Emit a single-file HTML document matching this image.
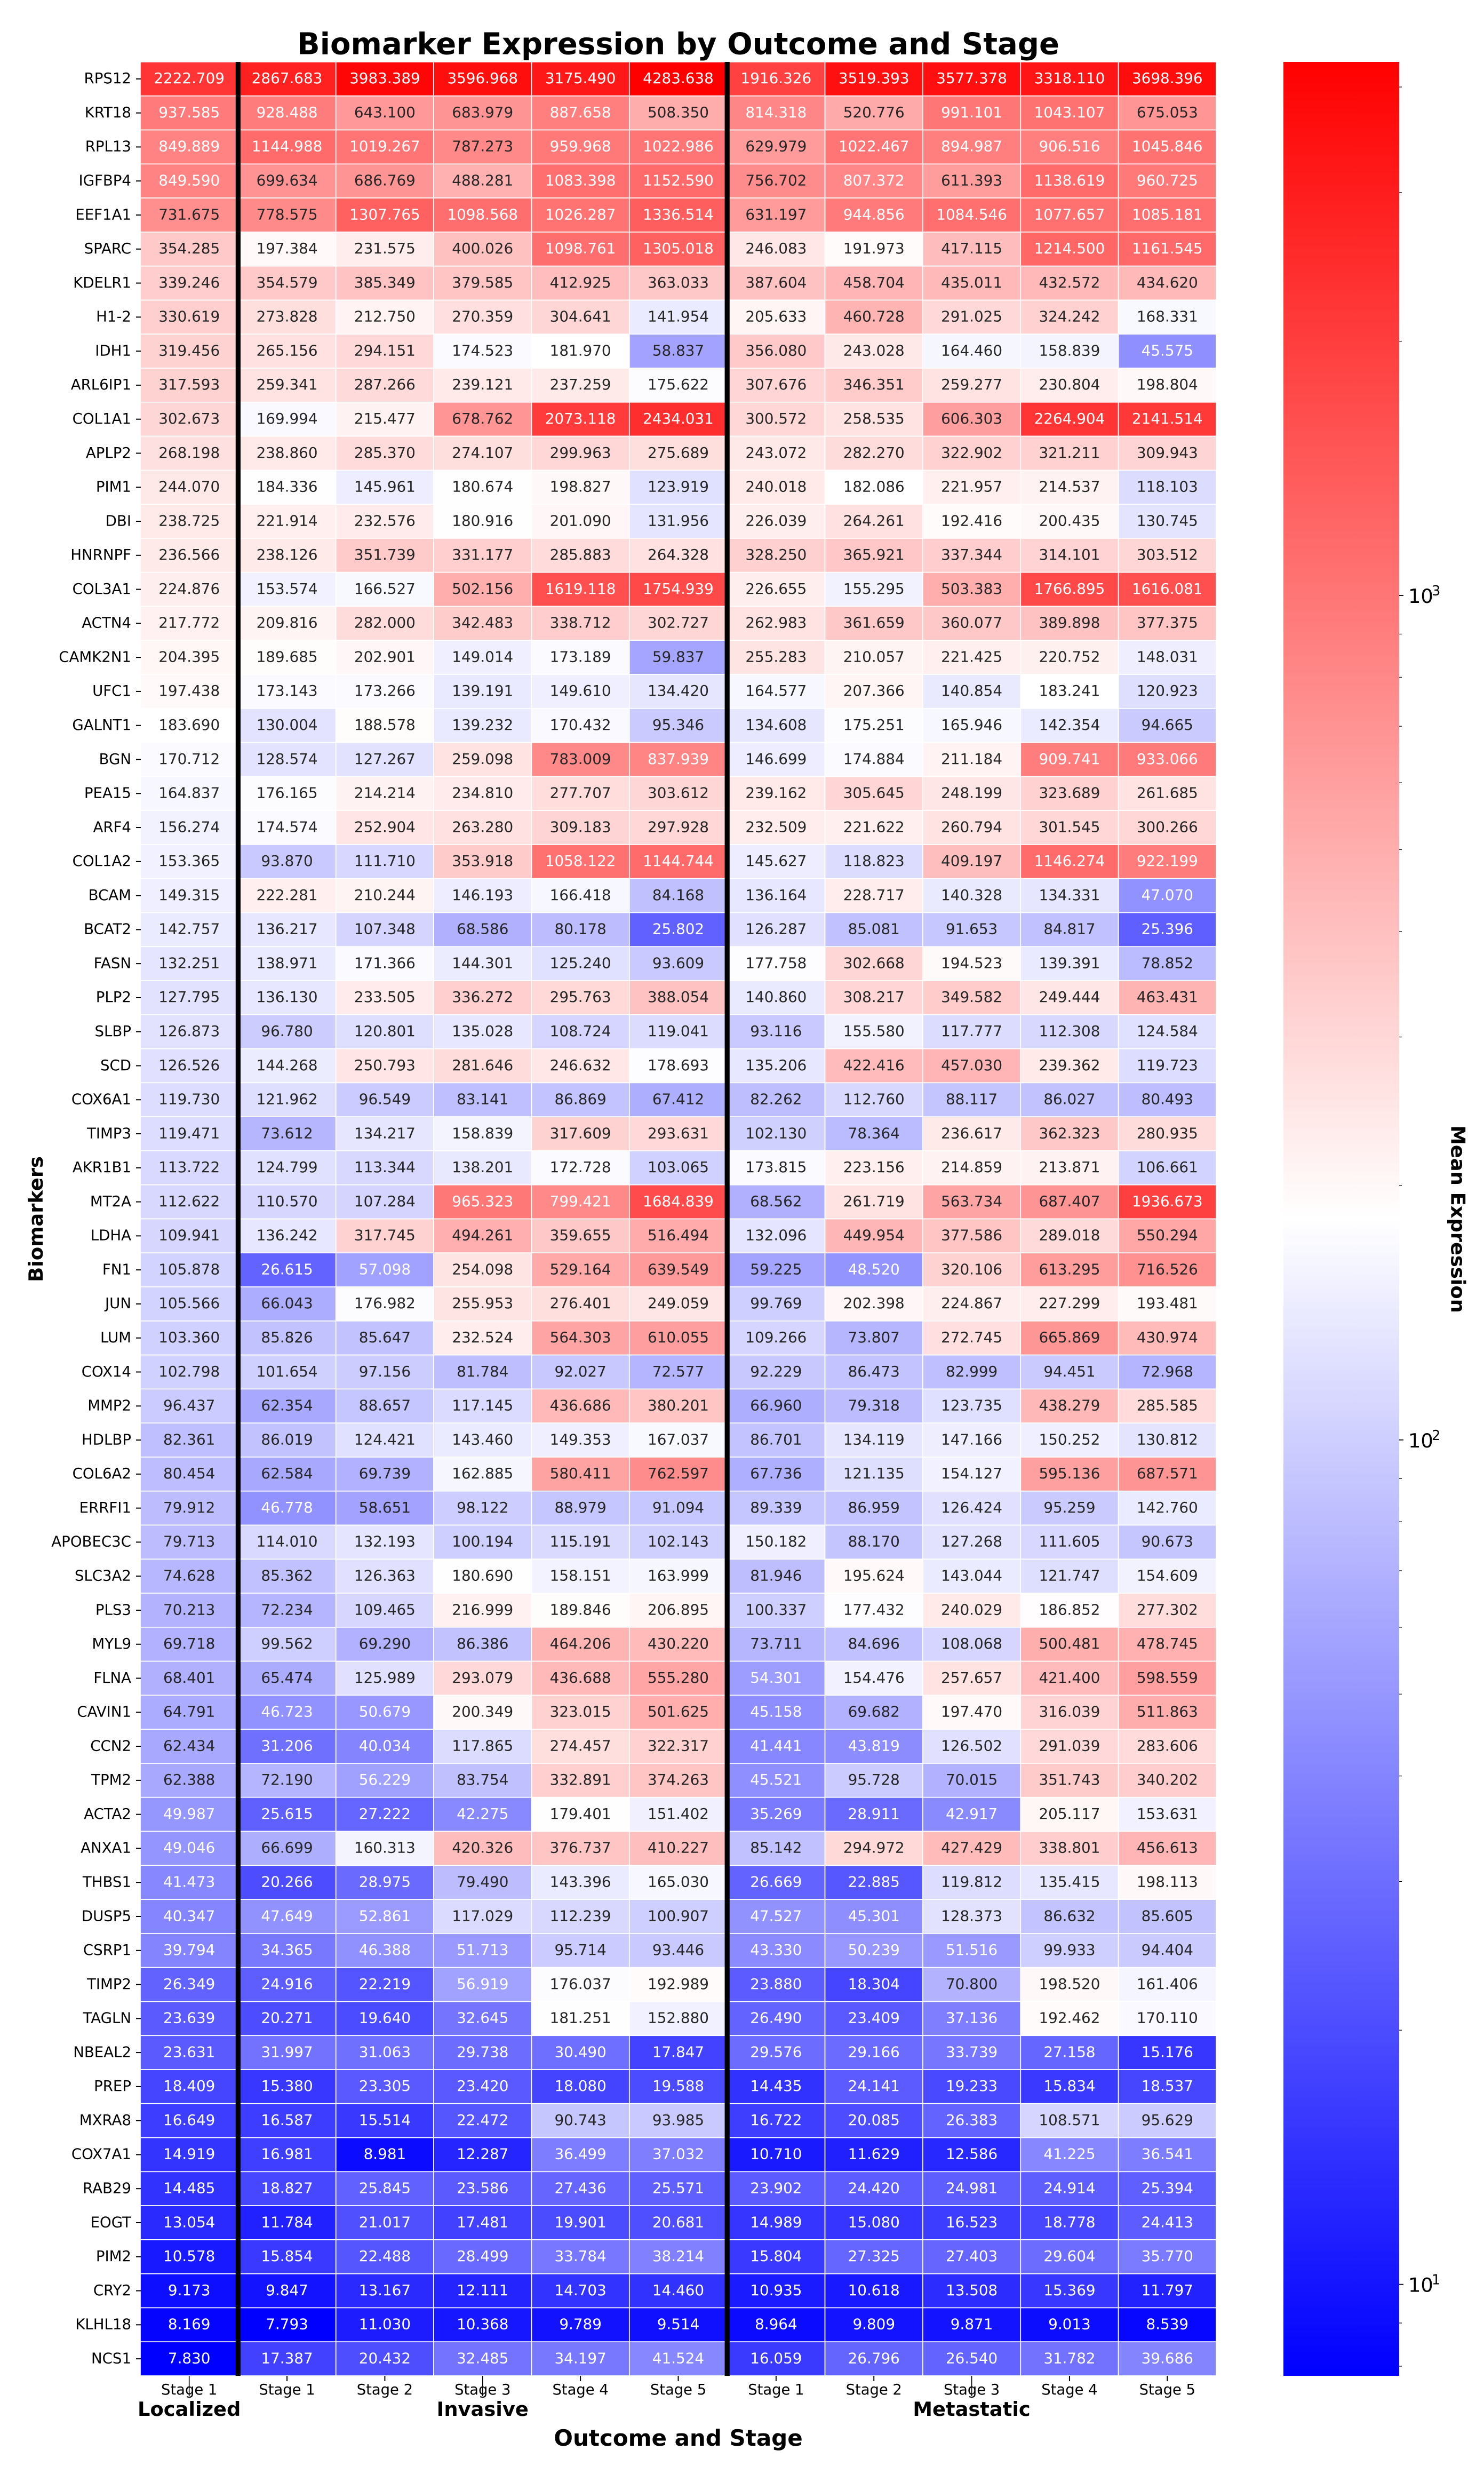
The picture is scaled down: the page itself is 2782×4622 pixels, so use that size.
<!DOCTYPE html>
<html lang="en">
<head>
<meta charset="utf-8">
<title>Biomarker Expression by Outcome and Stage</title>
<style>
html,body{margin:0;padding:0;background:#fff;}
#chart{display:block;width:2782px;height:4622px;font-family:"DejaVu Sans",sans-serif;}
text{font-family:"DejaVu Sans",sans-serif;}
.bold{font-weight:700;}
</style>
</head>
<body>
<svg id="chart" xmlns="http://www.w3.org/2000/svg" width="2782" height="4622" viewBox="0 0 2782 4622">
<rect x="0" y="0" width="2782" height="4622" fill="#ffffff"></rect>
<defs><linearGradient id="bwrGradient" x1="0" y1="1" x2="0" y2="0"><stop offset="0" stop-color="#0000ff"></stop><stop offset="0.5" stop-color="#ffffff"></stop><stop offset="1" stop-color="#ff0000"></stop></linearGradient></defs>
<text class="bold" x="557" y="101.7" font-size="56" textLength="1429" lengthAdjust="spacing" fill="#000">Biomarker Expression by Outcome and Stage</text>
<text class="bold" x="1271.5" y="4584" font-size="42" text-anchor="middle" fill="#000">Outcome and Stage</text>
<text class="bold" transform="translate(80,2285) rotate(-90)" font-size="36.8" text-anchor="middle" fill="#000">Biomarkers</text>
<text class="bold" transform="translate(2720.7,2285) rotate(90)" font-size="36.8" text-anchor="middle" fill="#000">Mean Expression</text>
<g id="cells"></g>
<g id="dividers"></g>
<g id="yAxis"></g>
<g id="xAxis"></g>
<g id="colorbar"></g>
</svg>
<script>
const biomarkers = ["RPS12","KRT18","RPL13","IGFBP4","EEF1A1","SPARC","KDELR1","H1-2","IDH1","ARL6IP1","COL1A1","APLP2","PIM1","DBI","HNRNPF","COL3A1","ACTN4","CAMK2N1","UFC1","GALNT1","BGN","PEA15","ARF4","COL1A2","BCAM","BCAT2","FASN","PLP2","SLBP","SCD","COX6A1","TIMP3","AKR1B1","MT2A","LDHA","FN1","JUN","LUM","COX14","MMP2","HDLBP","COL6A2","ERRFI1","APOBEC3C","SLC3A2","PLS3","MYL9","FLNA","CAVIN1","CCN2","TPM2","ACTA2","ANXA1","THBS1","DUSP5","CSRP1","TIMP2","TAGLN","NBEAL2","PREP","MXRA8","COX7A1","RAB29","EOGT","PIM2","CRY2","KLHL18","NCS1"];
const stageLabels = ["Stage 1","Stage 1","Stage 2","Stage 3","Stage 4","Stage 5","Stage 1","Stage 2","Stage 3","Stage 4","Stage 5"];
const outcomeLabels = ["Localized","Invasive","Metastatic"];
const outcomeColumnCounts = [1,5,5];
const colorbarMajorTicks = [1,2,3];

const localizedStage1 = [2222.709,937.585,849.889,849.590,731.675,354.285,339.246,330.619,319.456,317.593,302.673,268.198,244.070,238.725,236.566,224.876,217.772,204.395,197.438,183.690,170.712,164.837,156.274,153.365,149.315,142.757,132.251,127.795,126.873,126.526,119.730,119.471,113.722,112.622,109.941,105.878,105.566,103.360,102.798,96.437,82.361,80.454,79.912,79.713,74.628,70.213,69.718,68.401,64.791,62.434,62.388,49.987,49.046,41.473,40.347,39.794,26.349,23.639,23.631,18.409,16.649,14.919,14.485,13.054,10.578,9.173,8.169,7.830];

const invasiveStages = [
[2867.683,3983.389,3596.968,3175.490,4283.638],
[928.488,643.100,683.979,887.658,508.350],
[1144.988,1019.267,787.273,959.968,1022.986],
[699.634,686.769,488.281,1083.398,1152.590],
[778.575,1307.765,1098.568,1026.287,1336.514],
[197.384,231.575,400.026,1098.761,1305.018],
[354.579,385.349,379.585,412.925,363.033],
[273.828,212.750,270.359,304.641,141.954],
[265.156,294.151,174.523,181.970,58.837],
[259.341,287.266,239.121,237.259,175.622],
[169.994,215.477,678.762,2073.118,2434.031],
[238.860,285.370,274.107,299.963,275.689],
[184.336,145.961,180.674,198.827,123.919],
[221.914,232.576,180.916,201.090,131.956],
[238.126,351.739,331.177,285.883,264.328],
[153.574,166.527,502.156,1619.118,1754.939],
[209.816,282.000,342.483,338.712,302.727],
[189.685,202.901,149.014,173.189,59.837],
[173.143,173.266,139.191,149.610,134.420],
[130.004,188.578,139.232,170.432,95.346],
[128.574,127.267,259.098,783.009,837.939],
[176.165,214.214,234.810,277.707,303.612],
[174.574,252.904,263.280,309.183,297.928],
[93.870,111.710,353.918,1058.122,1144.744],
[222.281,210.244,146.193,166.418,84.168],
[136.217,107.348,68.586,80.178,25.802],
[138.971,171.366,144.301,125.240,93.609],
[136.130,233.505,336.272,295.763,388.054],
[96.780,120.801,135.028,108.724,119.041],
[144.268,250.793,281.646,246.632,178.693],
[121.962,96.549,83.141,86.869,67.412],
[73.612,134.217,158.839,317.609,293.631],
[124.799,113.344,138.201,172.728,103.065],
[110.570,107.284,965.323,799.421,1684.839],
[136.242,317.745,494.261,359.655,516.494],
[26.615,57.098,254.098,529.164,639.549],
[66.043,176.982,255.953,276.401,249.059],
[85.826,85.647,232.524,564.303,610.055],
[101.654,97.156,81.784,92.027,72.577],
[62.354,88.657,117.145,436.686,380.201],
[86.019,124.421,143.460,149.353,167.037],
[62.584,69.739,162.885,580.411,762.597],
[46.778,58.651,98.122,88.979,91.094],
[114.010,132.193,100.194,115.191,102.143],
[85.362,126.363,180.690,158.151,163.999],
[72.234,109.465,216.999,189.846,206.895],
[99.562,69.290,86.386,464.206,430.220],
[65.474,125.989,293.079,436.688,555.280],
[46.723,50.679,200.349,323.015,501.625],
[31.206,40.034,117.865,274.457,322.317],
[72.190,56.229,83.754,332.891,374.263],
[25.615,27.222,42.275,179.401,151.402],
[66.699,160.313,420.326,376.737,410.227],
[20.266,28.975,79.490,143.396,165.030],
[47.649,52.861,117.029,112.239,100.907],
[34.365,46.388,51.713,95.714,93.446],
[24.916,22.219,56.919,176.037,192.989],
[20.271,19.640,32.645,181.251,152.880],
[31.997,31.063,29.738,30.490,17.847],
[15.380,23.305,23.420,18.080,19.588],
[16.587,15.514,22.472,90.743,93.985],
[16.981,8.981,12.287,36.499,37.032],
[18.827,25.845,23.586,27.436,25.571],
[11.784,21.017,17.481,19.901,20.681],
[15.854,22.488,28.499,33.784,38.214],
[9.847,13.167,12.111,14.703,14.460],
[7.793,11.030,10.368,9.789,9.514],
[17.387,20.432,32.485,34.197,41.524]
];

const metastaticStages = [
[1916.326,3519.393,3577.378,3318.110,3698.396],
[814.318,520.776,991.101,1043.107,675.053],
[629.979,1022.467,894.987,906.516,1045.846],
[756.702,807.372,611.393,1138.619,960.725],
[631.197,944.856,1084.546,1077.657,1085.181],
[246.083,191.973,417.115,1214.500,1161.545],
[387.604,458.704,435.011,432.572,434.620],
[205.633,460.728,291.025,324.242,168.331],
[356.080,243.028,164.460,158.839,45.575],
[307.676,346.351,259.277,230.804,198.804],
[300.572,258.535,606.303,2264.904,2141.514],
[243.072,282.270,322.902,321.211,309.943],
[240.018,182.086,221.957,214.537,118.103],
[226.039,264.261,192.416,200.435,130.745],
[328.250,365.921,337.344,314.101,303.512],
[226.655,155.295,503.383,1766.895,1616.081],
[262.983,361.659,360.077,389.898,377.375],
[255.283,210.057,221.425,220.752,148.031],
[164.577,207.366,140.854,183.241,120.923],
[134.608,175.251,165.946,142.354,94.665],
[146.699,174.884,211.184,909.741,933.066],
[239.162,305.645,248.199,323.689,261.685],
[232.509,221.622,260.794,301.545,300.266],
[145.627,118.823,409.197,1146.274,922.199],
[136.164,228.717,140.328,134.331,47.070],
[126.287,85.081,91.653,84.817,25.396],
[177.758,302.668,194.523,139.391,78.852],
[140.860,308.217,349.582,249.444,463.431],
[93.116,155.580,117.777,112.308,124.584],
[135.206,422.416,457.030,239.362,119.723],
[82.262,112.760,88.117,86.027,80.493],
[102.130,78.364,236.617,362.323,280.935],
[173.815,223.156,214.859,213.871,106.661],
[68.562,261.719,563.734,687.407,1936.673],
[132.096,449.954,377.586,289.018,550.294],
[59.225,48.520,320.106,613.295,716.526],
[99.769,202.398,224.867,227.299,193.481],
[109.266,73.807,272.745,665.869,430.974],
[92.229,86.473,82.999,94.451,72.968],
[66.960,79.318,123.735,438.279,285.585],
[86.701,134.119,147.166,150.252,130.812],
[67.736,121.135,154.127,595.136,687.571],
[89.339,86.959,126.424,95.259,142.760],
[150.182,88.170,127.268,111.605,90.673],
[81.946,195.624,143.044,121.747,154.609],
[100.337,177.432,240.029,186.852,277.302],
[73.711,84.696,108.068,500.481,478.745],
[54.301,154.476,257.657,421.400,598.559],
[45.158,69.682,197.470,316.039,511.863],
[41.441,43.819,126.502,291.039,283.606],
[45.521,95.728,70.015,351.743,340.202],
[35.269,28.911,42.917,205.117,153.631],
[85.142,294.972,427.429,338.801,456.613],
[26.669,22.885,119.812,135.415,198.113],
[47.527,45.301,128.373,86.632,85.605],
[43.330,50.239,51.516,99.933,94.404],
[23.880,18.304,70.800,198.520,161.406],
[26.490,23.409,37.136,192.462,170.110],
[29.576,29.166,33.739,27.158,15.176],
[14.435,24.141,19.233,15.834,18.537],
[16.722,20.085,26.383,108.571,95.629],
[10.710,11.629,12.586,41.225,36.541],
[23.902,24.420,24.981,24.914,25.394],
[14.989,15.080,16.523,18.778,24.413],
[15.804,27.325,27.403,29.604,35.770],
[10.935,10.618,13.508,15.369,11.797],
[8.964,9.809,9.871,9.013,8.539],
[16.059,26.796,26.540,31.782,39.686]
];

const SVG_NS = "http://www.w3.org/2000/svg";
const heat = {left:263, right:2280, top:116, bottom:4453};
const bar = {left:2406, right:2623};
const colWidth = (heat.right - heat.left) / stageLabels.length;
const rowHeight = (heat.bottom - heat.top) / biomarkers.length;

function rowValues(r){ return [localizedStage1[r]].concat(invasiveStages[r], metastaticStages[r]); }
const allValues = biomarkers.flatMap(function(_, r){ return rowValues(r); });
const logMin = Math.log10(Math.min.apply(null, allValues));
const logMax = Math.log10(Math.max.apply(null, allValues));

function xLeft(c){ return heat.left + c * colWidth; }
function xCenter(c){ return heat.left + (c + 0.5) * colWidth; }
function yTop(r){ return heat.top + r * rowHeight; }
function yCenter(r){ return heat.top + (r + 0.5) * rowHeight; }
function norm(v){ return Math.max(0, Math.min(1, (Math.log10(v) - logMin) / (logMax - logMin))); }
function barY(v){ return heat.bottom - norm(v) * (heat.bottom - heat.top); }
function bwr(t){
  if (t < 0.5) { const k = t * 2; return [k, k, 1]; }
  const k = (1 - t) * 2; return [1, k, k];
}
function toCss(rgb){ return "rgb(" + rgb.map(function(c){ return Math.round(c * 255); }).join(",") + ")"; }
function luminance(rgb){
  const lin = rgb.map(function(c){ return c <= 0.03928 ? c / 12.92 : Math.pow((c + 0.055) / 1.055, 2.4); });
  return 0.2126 * lin[0] + 0.7152 * lin[1] + 0.0722 * lin[2];
}
function make(tag, parent){
  const el = document.createElementNS(SVG_NS, tag);
  parent.appendChild(el);
  return el;
}
function setAll(el, props){ Object.keys(props).forEach(function(k){ el.setAttribute(k, props[k]); }); }

const cellsGroup = document.getElementById("cells");
const dividersGroup = document.getElementById("dividers");
const yAxisGroup = document.getElementById("yAxis");
const xAxisGroup = document.getElementById("xAxis");
const colorbarGroup = document.getElementById("colorbar");

biomarkers.forEach(function(name, r){
  rowValues(r).forEach(function(v, c){
    const rgb = bwr(norm(v));
    const cell = make("rect", cellsGroup);
    
    
    setAll(cell, {x:xLeft(c), y:yTop(r), width:colWidth, height:rowHeight, fill:toCss(rgb), stroke:"#ffffff", "stroke-width":1.7});
    const label = make("text", cellsGroup);
    
    
    setAll(label, {x:xCenter(c), y:yCenter(r) + 8.3, "font-size":27.8, "text-anchor":"middle", fill:luminance(rgb) > 0.408 ? "#262626" : "#ffffff"});
    label.textContent = v.toFixed(3);
  });
  const tick = make("line", yAxisGroup);
  
  
  setAll(tick, {x1:255, x2:264, y1:yCenter(r), y2:yCenter(r), stroke:"#000", "stroke-width":2});
  const tickLabel = make("text", yAxisGroup);
  
  
  setAll(tickLabel, {x:246, y:yCenter(r) + 8.3, "font-size":27.6, "text-anchor":"end", fill:"#000"});
  tickLabel.textContent = name;
});

let groupStart = 0;
outcomeLabels.forEach(function(outcome, g){
  const count = outcomeColumnCounts[g];
  const middleCol = groupStart + (count - 1) / 2;
  stageLabels.slice(groupStart, groupStart + count).forEach(function(stage, k){
    const c = groupStart + k;
    const tick = make("line", xAxisGroup);
    
    
    setAll(tick, {x1:xCenter(c), x2:xCenter(c), y1:4453, y2:c === middleCol ? 4491 : 4463, stroke:"#000", "stroke-width":c === middleCol ? 1.6 : 2});
    const stageText = make("text", xAxisGroup);
    
    
    setAll(stageText, {x:xCenter(c), y:4488, "font-size":27.4, "text-anchor":"middle", fill:"#000"});
    stageText.textContent = stage;
  });
  const outcomeText = make("text", xAxisGroup);
  
  
  setAll(outcomeText, {x:xCenter(middleCol), y:4528, "font-size":36.8, "font-weight":700, "text-anchor":"middle", fill:"#000"});
  outcomeText.textContent = outcome;
  groupStart += count;
  if (groupStart < stageLabels.length) {
    const divider = make("line", dividersGroup);
    
    
    setAll(divider, {x1:xLeft(groupStart), x2:xLeft(groupStart), y1:116, y2:4453, stroke:"#000", "stroke-width":9.2});
  }
});

const barRect = make("rect", colorbarGroup);


setAll(barRect, {x:bar.left, y:heat.top, width:bar.right - bar.left, height:heat.bottom - heat.top, fill:"url(#bwrGradient)"});

const lowDecade = Math.floor(logMin);
const highDecade = Math.ceil(logMax);
for (let d = lowDecade; d <= highDecade; d++) {
  for (let m = 2; m <= 9; m++) {
    const value = m * Math.pow(10, d);
    if (Math.log10(value) < logMin || Math.log10(value) > logMax) continue;
    const minor = make("line", colorbarGroup);
    
    
    setAll(minor, {x1:bar.right, x2:bar.right + 5, y1:barY(value), y2:barY(value), stroke:"#000", "stroke-width":1.2});
  }
}
colorbarMajorTicks.forEach(function(exp){
  const y = barY(Math.pow(10, exp));
  const major = make("line", colorbarGroup);
  
  
  setAll(major, {x1:bar.right, x2:bar.right + 8, y1:y, y2:y, stroke:"#000", "stroke-width":1.8});
  const base = make("text", colorbarGroup);
  
  
  setAll(base, {x:2640, y:y + 14, "font-size":36.8, fill:"#000"});
  base.textContent = "10";
  const power = make("text", colorbarGroup);
  
  
  setAll(power, {x:2684, y:y, "font-size":25.7, fill:"#000"});
  power.textContent = String(exp);
});
</script>
</body>
</html>
